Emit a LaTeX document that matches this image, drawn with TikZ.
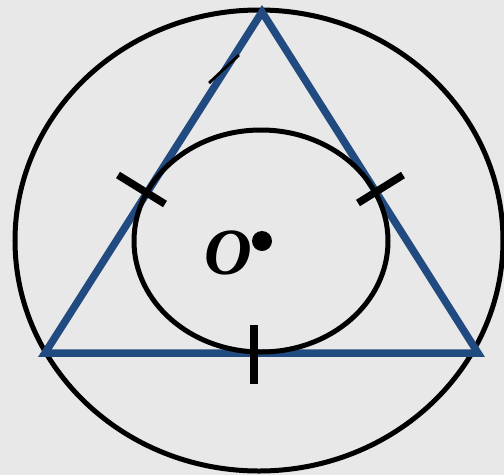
\documentclass[tikz,border=0pt]{standalone}
\usepackage{fontspec}
\setmainfont{Liberation Serif}
\usepackage{xcolor}
\usetikzlibrary{calc}
\definecolor{triblue}{HTML}{204A80}
\definecolor{bggray}{HTML}{E8E8E8}

\begin{document}
\begin{tikzpicture}[
  x=1pt,y=-1pt,
  ring/.style={draw=black, line width=5pt},
  side/.style={draw=triblue, line width=7.5pt, line join=miter},
  tick/.style={draw=black, line width=7.5pt},
  thin/.style={draw=black, line width=2.8pt}
]
% background and frame
\fill[bggray] (0,0) rectangle (504,475);
\useasboundingbox (0,0) rectangle (504,475);
% points
\coordinate (A) at (262,12);
\coordinate (B) at (45,353);
\coordinate (C) at (478,353);
\coordinate (O) at (262,241);
% circles
\draw[ring] (259,240.5) ellipse [x radius=244, y radius=230.5];
\draw[side] (A) -- (B) -- (C) -- cycle;
\draw[ring] (261,241) ellipse [x radius=127, y radius=111];
% tangent marks
\draw[tick] (118,175) -- (165,204);
\draw[tick] (358,203) -- (403,175);
\draw[tick] (254,325) -- (254,384);
\draw[thin] (209,83) -- (239,55);
% centre
\fill[black] (O) circle (10);
\node[inner sep=0pt, font=\fontsize{66}{66}\selectfont\bfseries\itshape] (lblO) at (228,253) {O};
\end{tikzpicture}
\end{document}
